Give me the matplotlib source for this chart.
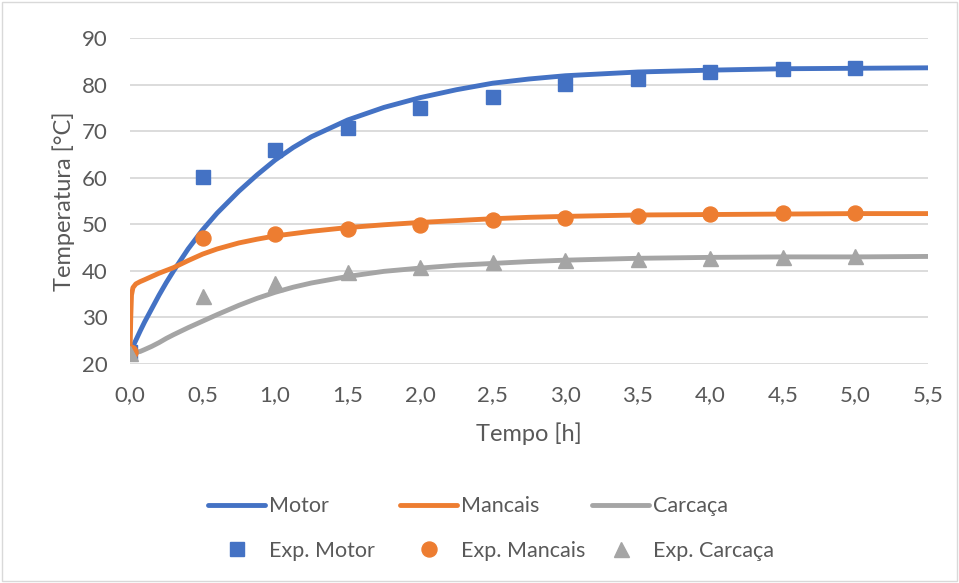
import matplotlib.pyplot as plt
from matplotlib.patches import Rectangle
from matplotlib.ticker import FuncFormatter

# model curves
t_model = [0.0, 0.005, 0.01, 0.02, 0.04, 0.07, 0.1, 0.15, 0.2, 0.25, 0.3, 0.4, 0.5, 0.6,
           0.75, 0.875, 1.0, 1.125, 1.25, 1.5, 1.75, 2.0, 2.25, 2.5, 2.75, 3.0, 3.5,
           4.0, 4.5, 5.0, 5.5]
motor = [22.5, 22.8, 23.2, 23.8, 25.1, 27.1, 29.0, 31.9, 34.8, 37.5, 40.0, 44.7, 48.8, 52.4,
         57.1, 60.6, 63.8, 66.5, 68.8, 72.4, 75.1, 77.2, 78.9, 80.3, 81.2, 81.9, 82.7,
         83.1, 83.4, 83.5, 83.6]
mancais = [22.5, 30.0, 34.8, 36.4, 37.2, 37.7, 38.1, 38.8, 39.5, 40.1, 40.7, 42.2, 43.6, 44.7,
           46.0, 46.8, 47.5, 48.0, 48.5, 49.3, 49.9, 50.4, 50.8, 51.2, 51.5, 51.7, 52.0,
           52.1, 52.2, 52.3, 52.3]
carcaca = [22.4, 22.4, 22.4, 22.4, 22.5, 22.7, 23.1, 23.8, 24.6, 25.5, 26.3, 27.8, 29.2, 30.6,
           32.6, 34.1, 35.4, 36.5, 37.4, 38.8, 39.9, 40.6, 41.2, 41.6, 42.0, 42.3, 42.7,
           42.9, 43.0, 43.0, 43.1]

# experimental points
t_exp = [0.0, 0.5, 1.0, 1.5, 2.0, 2.5, 3.0, 3.5, 4.0, 4.5, 5.0]
exp_motor = [22.5, 60.2, 65.9, 70.7, 74.9, 77.4, 80.1, 81.3, 82.6, 83.4, 83.6]
exp_mancais = [22.5, 47.0, 47.9, 49.0, 49.9, 50.9, 51.3, 51.8, 52.2, 52.4, 52.5]
exp_carcaca = [22.3, 34.6, 37.5, 39.7, 40.9, 41.8, 42.3, 42.6, 42.8, 43.0, 43.2]

blue = '#4472C4'
orange = '#ED7D31'
gray = '#A5A5A5'
txt = '#595959'

plt.rcParams['font.family'] = ['Lato', 'DejaVu Sans']

fig = plt.figure(figsize=(9.59, 5.83), dpi=100)
ax = fig.add_axes([0.1356, 0.3756, 0.8321, 0.5592])

l1, = ax.plot(t_model, motor, color=blue, lw=3.5, solid_capstyle='round', label='Motor', zorder=3)
l2, = ax.plot(t_model, mancais, color=orange, lw=3.5, solid_capstyle='round', label='Mancais', zorder=3)
l3, = ax.plot(t_model, carcaca, color=gray, lw=3.5, solid_capstyle='round', label='Carcaça', zorder=3)
m1, = ax.plot(t_exp, exp_motor, 's', color=blue, ms=10.3, label='Exp. Motor', zorder=4)
m2, = ax.plot(t_exp, exp_mancais, 'o', color=orange, ms=10.8, label='Exp. Mancais', zorder=4)
m3, = ax.plot(t_exp, exp_carcaca, '^', color=gray, ms=10.8, label='Exp. Carcaça', zorder=4)

ax.set_xlim(0, 5.5)
ax.set_ylim(20, 90)
ax.set_xticks([i * 0.5 for i in range(12)])
ax.set_yticks(range(20, 91, 10))
ax.xaxis.set_major_formatter(FuncFormatter(lambda v, p: f'{v:.1f}'.replace('.', ',')))
ax.grid(axis='y', color='#D9D9D9', lw=1.3)
ax.set_axisbelow(True)
for s in ax.spines.values():
    s.set_visible(False)
ax.tick_params(length=0, colors=txt, labelsize=16)
ax.tick_params(axis='x', pad=15)
ax.tick_params(axis='y', pad=16)
ax.set_xlabel('Tempo [h]', color=txt, fontsize=17, labelpad=12.5)
ax.set_ylabel('Temperatura [°C]', color=txt, fontsize=17)
ax.yaxis.set_label_coords(-0.069, 0.5)

# one legend per column, two rows each (line on top, points below)
cols = [(l1, m1, 208), (l2, m2, 400), (l3, m3, 592)]
for ln, mk, xpx in cols:
    leg = fig.legend(handles=[ln, mk], loc='center left',
                     bbox_to_anchor=(xpx / 959, 1 - 528.5 / 583), frameon=False,
                     fontsize=15.5, labelcolor=txt, handlelength=2.65,
                     handletextpad=0.2, labelspacing=1.14, borderpad=0,
                     borderaxespad=0)

fig.patches.append(Rectangle((0.002, 0.003), 0.996, 0.994, transform=fig.transFigure,
                             fill=False, edgecolor='#D9D9D9', lw=1))

fig.savefig('out.png', dpi=100)
